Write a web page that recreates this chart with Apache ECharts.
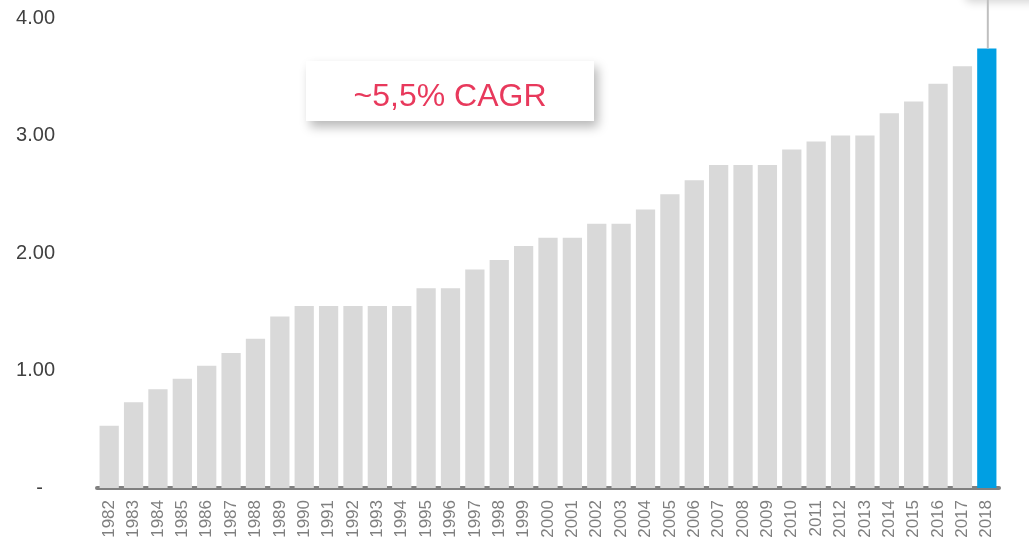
<!DOCTYPE html>
<html>
<head>
<meta charset="utf-8">
<script src="https://cdn.jsdelivr.net/npm/echarts@6/dist/echarts.min.js"></script>
<style>
html,body{margin:0;padding:0;background:#fff;}
#chart{width:1029px;height:541px;}
</style>
</head>
<body>
<div id="chart"></div>
<script>
var years = ['1982','1983','1984','1985','1986','1987','1988','1989','1990','1991','1992','1993','1994','1995','1996','1997','1998','1999','2000','2001','2002','2003','2004','2005','2006','2007','2008','2009','2010','2011','2012','2013','2014','2015','2016','2017','2018'];
var values = [0.53,0.73,0.84,0.93,1.04,1.15,1.27,1.46,1.55,1.55,1.55,1.55,1.55,1.70,1.70,1.86,1.94,2.06,2.13,2.13,2.25,2.25,2.37,2.50,2.62,2.75,2.75,2.75,2.88,2.95,3.00,3.00,3.19,3.29,3.44,3.59,3.74];
var highlightYear = '2018';
var yTicks = [0, 1, 2, 3, 4];
var annotationText = '~5,5% CAGR';

var chart = echarts.init(document.getElementById('chart'));
var barData = values.map(function (v, i) {
  return {
    value: v,
    itemStyle: { color: years[i] === highlightYear ? '#009FE3' : '#D9D9D9' }
  };
});

chart.setOption({
  animation: false,
  grid: { left: 97, right: 30, top: 18, bottom: 53, containLabel: false },
  xAxis: {
    type: 'category',
    data: years,
    axisLine: { show: true, lineStyle: { color: '#808080', width: 4 } },
    axisTick: { show: false },
    axisLabel: {
      rotate: 90,
      color: '#7F7F7F',
      fontFamily: 'Liberation Sans, Arial, sans-serif',
      fontSize: 17,
      margin: 12,
      interval: 0
    }
  },
  yAxis: {
    type: 'value',
    min: yTicks[0],
    max: yTicks[yTicks.length - 1],
    interval: 1,
    splitLine: { show: false },
    axisLine: { show: false },
    axisTick: { show: false },
    axisLabel: {
      color: '#404040',
      fontFamily: 'Liberation Sans, Arial, sans-serif',
      fontSize: 20,
      margin: 42,
      formatter: function (v) {
        return v === 0 ? '{d|-}' : v.toFixed(2);
      },
      rich: {
        d: { color: '#404040', fontSize: 20, fontFamily: 'Liberation Sans, Arial, sans-serif', padding: [0, 12, 0, 0] }
      }
    }
  },
  series: [{
    type: 'bar',
    data: barData,
    barCategoryGap: '21%',
    z: 1
  }]
});

var hlIdx = years.indexOf(highlightYear);
var hlTop = chart.convertToPixel({ seriesIndex: 0 }, [hlIdx, values[hlIdx]]) || [0, 0];
chart.setOption({
  graphic: [
    {
      type: 'rect',
      shape: { x: 965, y: -40, width: 140, height: 40, r: 6 },
      style: { fill: '#fff', shadowBlur: 10, shadowColor: 'rgba(0,0,0,0.18)', shadowOffsetY: 2 },
      z: 5
    },
    {
      type: 'line',
      shape: { x1: hlTop[0] + 1, y1: 0, x2: hlTop[0] + 1, y2: hlTop[1] },
      style: { stroke: '#BFBFBF', lineWidth: 2 },
      z: 100
    },
    {
      type: 'group',
      left: 306,
      top: 61,
      z: 10,
      children: [
        {
          type: 'rect',
          shape: { x: 0, y: 0, width: 288, height: 60 },
          style: { fill: '#fff', shadowBlur: 10, shadowOffsetX: 4, shadowOffsetY: 6, shadowColor: 'rgba(0,0,0,0.28)' }
        },
        {
          type: 'text',
          x: 144,
          y: 36,
          style: {
            text: annotationText,
            fill: '#E8395C',
            font: '32px "Liberation Sans", Arial, sans-serif',
            textAlign: 'center',
            textVerticalAlign: 'middle'
          }
        }
      ]
    }
  ]
});
</script>
</body>
</html>
